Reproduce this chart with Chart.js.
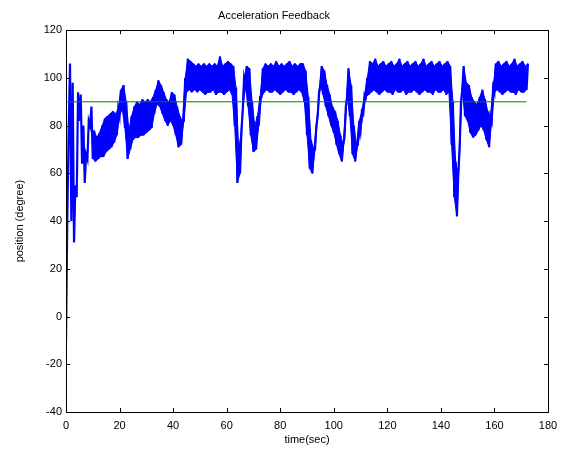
<!DOCTYPE html>
<html>
<head>
<meta charset="utf-8">
<script src="https://cdn.jsdelivr.net/npm/chart.js@4.4.1/dist/chart.umd.min.js"></script>
<style>
  html, body { margin: 0; padding: 0; background: #fff; }
  #wrap { width: 573px; height: 459px; }
</style>
</head>
<body>
<div id="wrap"><canvas id="feedback-chart" width="573" height="459"></canvas></div>
<script>
// lower / upper edge of the noisy blue trace, one pair per second (t = 0..172)
const lowDeg = [
  -10, 78, 40, 31, 50, 82, 64, 56, 66, 80,
  66, 65, 66, 67, 67, 69, 70, 71, 73, 76,
  84, 87, 79, 66, 70, 74, 75, 75, 76, 76,
  77, 78, 79, 85, 89, 88, 85, 82, 80, 82,
  80, 76, 71, 72, 82, 94, 95, 94, 95, 94,
  95, 94, 93, 94, 94, 95, 93, 94, 94, 93,
  94, 95, 93, 80, 56, 60, 86, 97, 88, 76,
  69, 70, 80, 92, 94, 95, 94, 94, 95, 94,
  93, 94, 95, 94, 94, 93, 94, 95, 94, 90,
  76, 62, 60, 70, 84, 97, 93, 88, 84, 80,
  77, 72, 68, 65, 75, 92, 84, 68, 65, 72,
  78, 85, 92, 93, 94, 95, 94, 93, 94, 95,
  94, 94, 93, 95, 94, 94, 95, 93, 94, 94,
  95, 94, 93, 94, 95, 94, 94, 93, 95, 94,
  94, 95, 93, 94, 72, 50, 42, 70, 95, 84,
  82, 77, 75, 76, 78, 80, 78, 74, 71, 82,
  94, 95, 94, 93, 94, 95, 94, 94, 93, 95,
  94, 94, 95
];
const highDeg = [
  42, 106, 98, 55, 94, 93, 80, 68, 82, 88,
  78, 75, 77, 80, 83, 84, 85, 86, 85, 87,
  95, 97, 90, 78, 84, 88, 90, 89, 91, 90,
  91, 90, 92, 95, 99, 97, 94, 91, 90, 94,
  93, 88, 84, 82, 100, 108, 107, 106, 105, 106,
  105, 106, 105, 106, 105, 106, 105, 109, 105, 106,
  107, 106, 105, 96, 70, 78, 100, 105, 104, 90,
  80, 84, 92, 104, 106, 105, 106, 105, 107, 105,
  106, 105, 106, 107, 105, 106, 105, 106, 106, 103,
  92, 74, 70, 80, 94, 105, 103, 97, 93, 88,
  86, 82, 76, 72, 88, 104, 97, 80, 72, 82,
  86, 93, 100, 107, 106, 108, 105, 106, 107, 105,
  106, 107, 105, 106, 108, 105, 106, 107, 105, 106,
  107, 105, 106, 108, 105, 106, 107, 105, 106, 107,
  105, 106, 107, 105, 90, 65, 60, 90, 105, 98,
  97, 92, 90, 89, 92, 95, 91, 86, 84, 96,
  106, 107, 105, 106, 107, 105, 106, 108, 105, 106,
  107, 105, 106
];
const targetTime = [0, 172];
const targetDeg = [90, 90];

// first seconds are a single swinging line, the solid band starts here
const bandStartSec = 10;

const xTicks = [0, 20, 40, 60, 80, 100, 120, 140, 160, 180];
const yTicks = [-40, -20, 0, 20, 40, 60, 80, 100, 120];

const chartCanvas = document.getElementById('feedback-chart');

// the trace swings low -> high inside each second, like the sampled signal
const tracePoints = [];
for (let i = 0; i < lowDeg.length; i++)
{
    tracePoints.push({ x: i, y: lowDeg[i] });
    tracePoints.push({ x: i + 0.5, y: highDeg[i] });
}
const bandLow = lowDeg.map((v, i) => ({ x: i, y: v })).slice(bandStartSec);
const bandHigh = highDeg.map((v, i) => ({ x: i + 0.5, y: v })).slice(bandStartSec);
const targetPoints = targetTime.map((t, i) => ({ x: t, y: targetDeg[i] }));

// matlab style box with inward ticks on all four sides
const boxTicks = {
    id: 'boxTicks',
    afterDatasetsDraw(chart)
    {
        const { ctx, chartArea: { left, right, top, bottom }, scales: { x, y } } = chart;
        const len = 4;
        ctx.save();
        ctx.strokeStyle = '#000';
        ctx.lineWidth = 1;
        ctx.beginPath();
        for (const v of xTicks)
        {
            const px = Math.round(x.getPixelForValue(v)) + 0.5;
            ctx.moveTo(px, bottom); ctx.lineTo(px, bottom - len);
            ctx.moveTo(px, top); ctx.lineTo(px, top + len);
        }
        for (const v of yTicks)
        {
            const py = Math.round(y.getPixelForValue(v)) + 0.5;
            ctx.moveTo(left, py); ctx.lineTo(left + len, py);
            ctx.moveTo(right, py); ctx.lineTo(right - len, py);
        }
        ctx.stroke();
        ctx.strokeRect(Math.round(left) + 0.5, Math.round(top) + 0.5,
                       Math.round(right - left), Math.round(bottom - top));
        ctx.restore();
    }
};

Chart.defaults.font.family = "'Liberation Sans', Arial, sans-serif";
Chart.defaults.font.size = 11;
Chart.defaults.color = '#000';

const config = {
    type: 'line',
    data: {
        datasets: [
            {
                data: targetPoints,
                borderColor: '#008000',
                borderWidth: 1,
                pointRadius: 0,
                order: 0
            },
            {
                data: tracePoints,
                borderColor: '#0000ff',
                borderWidth: 2.2,
                pointRadius: 0,
                order: 1
            },
            {
                data: bandLow,
                borderColor: '#0000ff',
                borderWidth: 1,
                pointRadius: 0,
                order: 3
            },
            {
                data: bandHigh,
                borderColor: '#0000ff',
                backgroundColor: '#0000ff',
                borderWidth: 1,
                pointRadius: 0,
                fill: 2,
                order: 2
            }
        ]
    },
    options: {
        responsive: false,
        devicePixelRatio: 1,
        animation: false,
        events: [],
        layout: { padding: { left: 0, right: 25, top: 0, bottom: 0 } },
        scales: {
            x: {
                type: 'linear',
                min: 0,
                max: 180,
                afterBuildTicks: scale => { scale.ticks = xTicks.map(v => ({ value: v })); },
                afterFit: scale => { scale.height = 47; },
                grid: { display: false, drawTicks: false },
                border: { display: false },
                ticks: { padding: 7, maxRotation: 0, autoSkip: false },
                title: { display: true, text: 'time(sec)', padding: { top: 0, bottom: 12 } }
            },
            y: {
                min: -40,
                max: 120,
                afterBuildTicks: scale => { scale.ticks = yTicks.map(v => ({ value: v })); },
                afterFit: scale => { scale.width = 66; },
                grid: { display: false, drawTicks: false },
                border: { display: false },
                ticks: { padding: 4, autoSkip: false },
                title: { display: true, text: 'position (degree)', padding: { top: 13, bottom: 0 } }
            }
        },
        plugins: {
            legend: { display: false },
            tooltip: { enabled: false },
            filler: { propagate: false },
            title: {
                display: true,
                text: 'Acceleration Feedback',
                font: { size: 11, weight: 'normal' },
                padding: { top: 9, bottom: 8 }
            }
        }
    },
    plugins: [boxTicks]
};

new Chart(chartCanvas, config);
</script>
</body>
</html>
